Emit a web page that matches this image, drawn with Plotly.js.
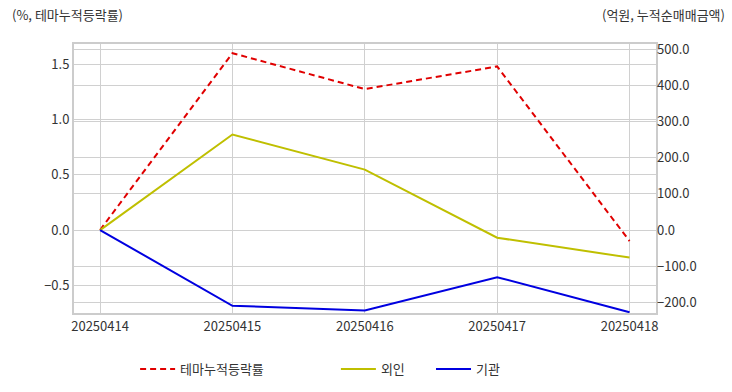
<!DOCTYPE html>
<html><head><meta charset="utf-8">
<script src="https://cdn.plot.ly/plotly-3.0.1.min.js"></script>
<style>html,body{margin:0;padding:0;background:#fff}#c{width:732px;height:392px}</style>
</head><body><div id="c"></div>
<script>
const dates = ['20250414','20250415','20250416','20250417','20250418'];
const themeReturn = [0.0, 1.60, 1.275, 1.48, -0.10];
const foreign = [0.0, 264, 167, -21, -76];
const institution = [0.0, -209, -222, -130, -227];

const F = '"Noto Sans CJK KR", "Noto Sans", sans-serif';
const traces = [
  {x: dates, y: themeReturn, name: '테마누적등락률', type: 'scatter', mode: 'lines', yaxis: 'y',
   line: {color: '#e00000', width: 2, dash: '6px,4px'}, legend: 'legend'},
  {x: dates, y: foreign, name: '외인', type: 'scatter', mode: 'lines', yaxis: 'y2',
   line: {color: '#bfbf00', width: 2}, legend: 'legend2'},
  {x: dates, y: institution, name: '기관', type: 'scatter', mode: 'lines', yaxis: 'y2',
   line: {color: '#0000e0', width: 2}, legend: 'legend3'}
];
const legendBase = {orientation: 'h', xanchor: 'left', y: -0.208, yanchor: 'middle', itemwidth: 35,
  font: {family: F, size: 13, color: '#333'}, bgcolor: 'rgba(0,0,0,0)'};
const layout = {
  width: 732, height: 392,
  margin: {l: 74, r: 76, t: 44, b: 79, autoexpand: false},
  paper_bgcolor: '#fff', plot_bgcolor: '#fff',
  font: {family: F, size: 13, color: '#333'},
  showlegend: true,
  xaxis: {type: 'category', range: [-0.197, 4.2], showgrid: true, gridcolor: '#d0d0d0', gridwidth: 1,
    showline: true, mirror: true, linecolor: '#cccccc', linewidth: 2, zeroline: false,
    tickfont: {family: F, size: 13, color: '#333'}, ticks: ''},
  yaxis: {range: [-0.751, 1.683], dtick: 0.5, tick0: 0, tickformat: '.1f', showgrid: true,
    gridcolor: '#d0d0d0', gridwidth: 1, zeroline: false, showline: true, mirror: true,
    linecolor: '#cccccc', linewidth: 2, tickfont: {family: F, size: 13, color: '#333'}},
  yaxis2: {overlaying: 'y', side: 'right', range: [-229, 514], dtick: 100, tick0: 0, tickformat: '.1f',
    showgrid: true, gridcolor: '#d0d0d0', gridwidth: 1, zeroline: false, showline: false,
    tickfont: {family: F, size: 13, color: '#333'}},
  legend: Object.assign({}, legendBase, {x: 0.105}),
  legend2: Object.assign({}, legendBase, {x: 0.45}),
  legend3: Object.assign({}, legendBase, {x: 0.6134}),
  annotations: [
    {text: '(%, 테마누적등락률)', xref: 'paper', yref: 'paper', x: -0.11, y: 1.0, xanchor: 'left', yanchor: 'bottom',
     yshift: 18, showarrow: false, font: {family: F, size: 13, color: '#333'}},
    {text: '(억원, 누적순매매금액)', xref: 'paper', yref: 'paper', x: 1.1216, y: 1.0, xanchor: 'right', yanchor: 'bottom',
     yshift: 18, showarrow: false, font: {family: F, size: 13, color: '#333'}}
  ]
};
Plotly.newPlot('c', traces, layout, {displayModeBar: false, staticPlot: true});
</script></body></html>
